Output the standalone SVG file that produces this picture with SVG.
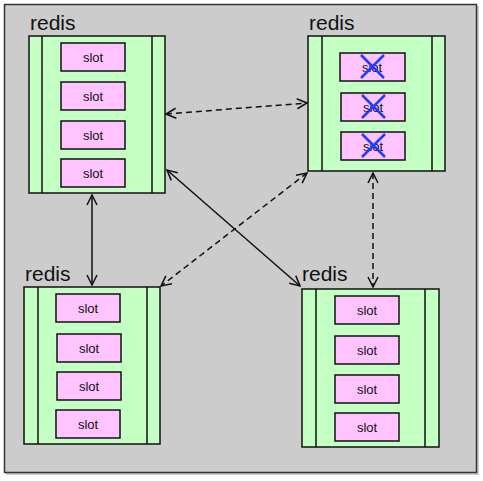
<svg xmlns="http://www.w3.org/2000/svg" width="483" height="481" viewBox="0 0 483 481">
<defs>
<marker id="ah" viewBox="0 0 12 12" refX="11" refY="6" markerWidth="12" markerHeight="12" markerUnits="userSpaceOnUse" orient="auto-start-reverse">
<path d="M1,1 L11,6 L1,11" fill="none" stroke="#111" stroke-width="1.5"/>
</marker>
</defs>
<style>
.bg{fill:#cccccc;stroke:#333;stroke-width:1.5}
.node{fill:#c4ffc4;stroke:#111;stroke-width:1.5}
.div{stroke:#111;stroke-width:1.5}
.slot{fill:#ffc4ff;stroke:#111;stroke-width:1.5}
.st{font-family:"Liberation Sans",Arial,sans-serif;font-size:13px;fill:#111;text-anchor:middle}
.lbl{font-family:"Liberation Sans",Arial,sans-serif;font-size:21px;fill:#111}
.x{stroke:#1f3cff;stroke-width:2.5;fill:none}
.c{stroke:#111;stroke-width:1.5;fill:none;marker-start:url(#ah);marker-end:url(#ah)}
.d{stroke-dasharray:6,4}
</style>
<rect x="6" y="6" width="473" height="469" fill="#999" opacity="0.5"/>
<rect class="bg" x="4.5" y="4.5" width="472" height="468"/>

<g id="connectors">
<line class="c d" x1="166" y1="114" x2="307" y2="103"/>
<line class="c" x1="92" y1="195" x2="92" y2="285"/>
<line class="c" x1="167" y1="170" x2="300" y2="286"/>
<line class="c d" x1="307" y1="173" x2="161" y2="286"/>
<line class="c d" x1="373" y1="173" x2="373" y2="287"/>
</g>

<g id="node-top-left">
<text class="lbl" x="30" y="30">redis</text>
<rect class="node" x="29" y="36" width="136" height="157"/>
<line class="div" x1="42" y1="36" x2="42" y2="193"/>
<line class="div" x1="152" y1="36" x2="152" y2="193"/>
<rect class="slot" x="61" y="43" width="64" height="28"/><text class="st" x="93" y="62">slot</text>
<rect class="slot" x="61" y="82" width="64" height="28"/><text class="st" x="93" y="101">slot</text>
<rect class="slot" x="61" y="121" width="64" height="28"/><text class="st" x="93" y="140">slot</text>
<rect class="slot" x="61" y="159" width="64" height="28"/><text class="st" x="93" y="178">slot</text>
</g>

<g id="node-top-right">
<text class="lbl" x="309" y="30">redis</text>
<rect class="node" x="308" y="36" width="137" height="135"/>
<line class="div" x1="322" y1="36" x2="322" y2="171"/>
<line class="div" x1="432" y1="36" x2="432" y2="171"/>
<rect class="slot" x="340" y="53" width="65" height="28"/><text class="st" x="372" y="72">slot</text>
<path class="x" d="M361,55 L384,78 M384,55 L361,78"/>
<rect class="slot" x="341" y="93" width="64" height="28"/><text class="st" x="373" y="112">slot</text>
<path class="x" d="M362,95 L385,118 M385,95 L362,118"/>
<rect class="slot" x="341" y="132" width="64" height="28"/><text class="st" x="373" y="151">slot</text>
<path class="x" d="M362,134 L385,157 M385,134 L362,157"/>
</g>

<g id="node-bottom-left">
<text class="lbl" x="25" y="281">redis</text>
<rect class="node" x="24" y="287" width="136" height="157"/>
<line class="div" x1="38" y1="287" x2="38" y2="444"/>
<line class="div" x1="147" y1="287" x2="147" y2="444"/>
<rect class="slot" x="56" y="294" width="64" height="28"/><text class="st" x="88" y="313">slot</text>
<rect class="slot" x="57" y="334" width="64" height="28"/><text class="st" x="89" y="353">slot</text>
<rect class="slot" x="57" y="372" width="64" height="28"/><text class="st" x="89" y="391">slot</text>
<rect class="slot" x="56" y="410" width="64" height="28"/><text class="st" x="88" y="429">slot</text>
</g>

<g id="node-bottom-right">
<text class="lbl" x="302" y="281">redis</text>
<rect class="node" x="302" y="289" width="137" height="158"/>
<line class="div" x1="316" y1="289" x2="316" y2="447"/>
<line class="div" x1="425" y1="289" x2="425" y2="447"/>
<rect class="slot" x="335" y="296" width="64" height="28"/><text class="st" x="367" y="315">slot</text>
<rect class="slot" x="335" y="336" width="64" height="28"/><text class="st" x="367" y="355">slot</text>
<rect class="slot" x="335" y="375" width="64" height="28"/><text class="st" x="367" y="394">slot</text>
<rect class="slot" x="335" y="413" width="64" height="28"/><text class="st" x="367" y="432">slot</text>
</g>
</svg>
